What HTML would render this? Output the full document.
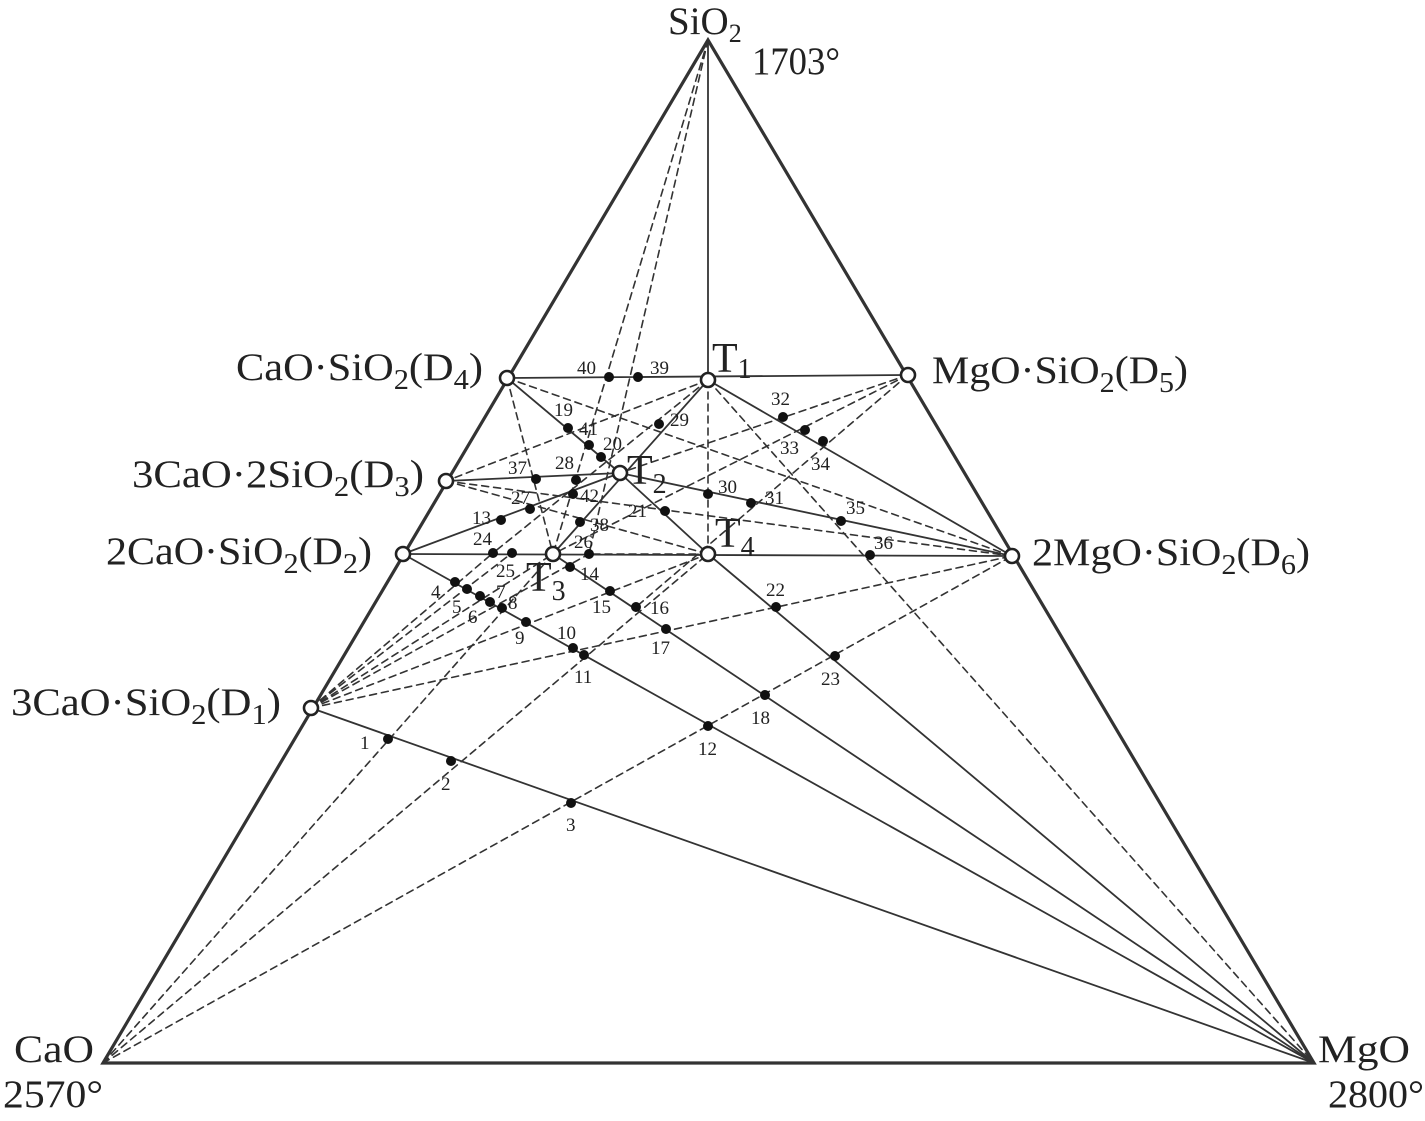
<!DOCTYPE html>
<html><head><meta charset="utf-8"><style>
html,body{margin:0;padding:0;background:#fff}
svg{display:block}
text{font-family:"Liberation Serif",serif;fill:#222}
.big{font-size:39px}
.n{font-size:19px}
.t{font-size:42px}
</style></head><body>
<svg width="1425" height="1121" viewBox="0 0 1425 1121">
<g stroke="#333" fill="none" stroke-linecap="round">
<polygon points="708,40 103,1063 1314,1063" stroke-width="3.2" stroke-linejoin="miter"/>
<g stroke-width="1.8">
<line x1="708" y1="40" x2="708" y2="380"/>
<line x1="507" y1="378" x2="908" y2="375"/>
<line x1="446" y1="481" x2="620" y2="473"/>
<line x1="403" y1="554" x2="1012" y2="556"/>
<line x1="311" y1="708" x2="1314" y2="1063"/>
<line x1="403" y1="554" x2="1314" y2="1063"/>
<line x1="553" y1="554" x2="1314" y2="1063"/>
<line x1="708" y1="554" x2="1314" y2="1063"/>
<line x1="620" y1="473" x2="1012" y2="556"/>
<line x1="708" y1="380" x2="1012" y2="556"/>
<line x1="507" y1="378" x2="620" y2="473"/>
<line x1="708" y1="380" x2="553" y2="554"/>
<line x1="403" y1="554" x2="620" y2="473"/>
<line x1="620" y1="473" x2="708" y2="554"/>
</g>
<g stroke-width="1.6" stroke-dasharray="7,5">
<line x1="708" y1="40" x2="553" y2="554"/>
<line x1="708" y1="40" x2="589" y2="554"/>
<line x1="103" y1="1063" x2="553" y2="554"/>
<line x1="103" y1="1063" x2="708" y2="554"/>
<line x1="103" y1="1063" x2="1012" y2="556"/>
<line x1="311" y1="708" x2="493" y2="553"/>
<line x1="311" y1="708" x2="512" y2="553"/>
<line x1="311" y1="708" x2="553" y2="554"/>
<line x1="311" y1="708" x2="589" y2="554"/>
<line x1="311" y1="708" x2="708" y2="554"/>
<line x1="311" y1="708" x2="1012" y2="556"/>
<line x1="708" y1="380" x2="708" y2="554"/>
<line x1="708" y1="380" x2="446" y2="481"/>
<line x1="708" y1="380" x2="1314" y2="1063"/>
<line x1="708" y1="380" x2="493" y2="553"/>
<line x1="507" y1="378" x2="553" y2="554"/>
<line x1="507" y1="378" x2="1012" y2="556"/>
<line x1="446" y1="481" x2="1012" y2="556"/>
<line x1="446" y1="481" x2="708" y2="554"/>
<line x1="908" y1="375" x2="620" y2="473"/>
<line x1="908" y1="375" x2="553" y2="554"/>
<line x1="908" y1="375" x2="636" y2="607"/>
<line x1="708" y1="554" x2="589" y2="554"/>
</g>
</g>
<g fill="#111">
<circle cx="388" cy="739" r="5"/><circle cx="451" cy="761" r="5"/><circle cx="571" cy="803" r="5"/>
<circle cx="455" cy="582" r="5"/><circle cx="467" cy="589" r="5"/><circle cx="480" cy="596" r="5"/><circle cx="490" cy="602" r="5"/><circle cx="502" cy="608" r="5"/>
<circle cx="526" cy="622" r="5"/><circle cx="573" cy="648" r="5"/><circle cx="584" cy="655" r="5"/><circle cx="708" cy="726" r="5"/>
<circle cx="570" cy="567" r="5"/><circle cx="610" cy="591" r="5"/><circle cx="636" cy="607" r="5"/><circle cx="666" cy="629" r="5"/><circle cx="765" cy="695" r="5"/>
<circle cx="776" cy="607" r="5"/><circle cx="835" cy="656" r="5"/>
<circle cx="501" cy="520" r="5"/><circle cx="530" cy="509" r="5"/><circle cx="573" cy="494" r="5"/>
<circle cx="568" cy="428" r="5"/><circle cx="589" cy="445" r="5"/><circle cx="601" cy="457" r="5"/>
<circle cx="659" cy="424" r="5"/><circle cx="580" cy="522" r="5"/><circle cx="665" cy="511" r="5"/>
<circle cx="708" cy="494" r="5"/><circle cx="751" cy="503" r="5"/><circle cx="841" cy="521" r="5"/>
<circle cx="783" cy="417" r="5"/><circle cx="805" cy="430" r="5"/><circle cx="823" cy="441" r="5"/>
<circle cx="870" cy="555" r="5"/><circle cx="493" cy="553" r="5"/><circle cx="512" cy="553" r="5"/><circle cx="589" cy="554" r="5"/>
<circle cx="536" cy="479" r="5"/><circle cx="576" cy="480" r="5"/>
<circle cx="609" cy="377" r="5"/><circle cx="638" cy="377" r="5"/>
</g>
<g fill="#fff" stroke="#222" stroke-width="2.6">
<circle cx="507" cy="378" r="7"/><circle cx="708" cy="380" r="7"/><circle cx="908" cy="375" r="7"/>
<circle cx="446" cy="481" r="7"/><circle cx="620" cy="473" r="7"/>
<circle cx="403" cy="554" r="7"/><circle cx="553" cy="554" r="7"/><circle cx="708" cy="554" r="7"/><circle cx="1012" cy="556" r="7"/>
<circle cx="311" cy="708" r="7"/>
</g>
<text class="big" x="668" y="34" font-size="36">SiO<tspan font-size="26" dy="8">2</tspan></text>
<text class="big" x="752" y="74" textLength="88" lengthAdjust="spacingAndGlyphs">1703°</text>
<text class="big" x="236" y="380" textLength="247" lengthAdjust="spacingAndGlyphs">CaO·SiO<tspan font-size="28" dy="9">2</tspan><tspan dy="-9">(D</tspan><tspan font-size="28" dy="9">4</tspan><tspan dy="-9">)</tspan></text>
<text class="big" x="932" y="383" textLength="256" lengthAdjust="spacingAndGlyphs">MgO·SiO<tspan font-size="28" dy="9">2</tspan><tspan dy="-9">(D</tspan><tspan font-size="28" dy="9">5</tspan><tspan dy="-9">)</tspan></text>
<text class="big" x="132" y="487" textLength="292" lengthAdjust="spacingAndGlyphs">3CaO·2SiO<tspan font-size="28" dy="9">2</tspan><tspan dy="-9">(D</tspan><tspan font-size="28" dy="9">3</tspan><tspan dy="-9">)</tspan></text>
<text class="big" x="106" y="564" textLength="266" lengthAdjust="spacingAndGlyphs">2CaO·SiO<tspan font-size="28" dy="9">2</tspan><tspan dy="-9">(D</tspan><tspan font-size="28" dy="9">2</tspan><tspan dy="-9">)</tspan></text>
<text class="big" x="1032" y="565" textLength="278" lengthAdjust="spacingAndGlyphs">2MgO·SiO<tspan font-size="28" dy="9">2</tspan><tspan dy="-9">(D</tspan><tspan font-size="28" dy="9">6</tspan><tspan dy="-9">)</tspan></text>
<text class="big" x="11" y="715" textLength="270" lengthAdjust="spacingAndGlyphs">3CaO·SiO<tspan font-size="28" dy="9">2</tspan><tspan dy="-9">(D</tspan><tspan font-size="28" dy="9">1</tspan><tspan dy="-9">)</tspan></text>
<text class="big" x="14" y="1062" textLength="80" lengthAdjust="spacingAndGlyphs">CaO</text>
<text class="big" x="3" y="1107" textLength="100" lengthAdjust="spacingAndGlyphs">2570°</text>
<text class="big" x="1318" y="1062" textLength="92" lengthAdjust="spacingAndGlyphs">MgO</text>
<text class="big" x="1328" y="1107" textLength="96" lengthAdjust="spacingAndGlyphs">2800°</text>
<text class="t" x="712" y="372">T<tspan font-size="28" dy="6">1</tspan></text>
<text class="t" x="627" y="484">T<tspan font-size="28" dy="9">2</tspan></text>
<text class="t" x="526" y="591">T<tspan font-size="28" dy="9">3</tspan></text>
<text class="t" x="715" y="547">T<tspan font-size="28" dy="9">4</tspan></text>
<g>
<text class="n" x="360" y="749">1</text><text class="n" x="441" y="790">2</text><text class="n" x="566" y="831">3</text>
<text class="n" x="431" y="598">4</text><text class="n" x="452" y="613">5</text><text class="n" x="468" y="623">6</text><text class="n" x="496" y="598">7</text><text class="n" x="508" y="609">8</text>
<text class="n" x="515" y="644">9</text><text class="n" x="557" y="639">10</text><text class="n" x="574" y="683">11</text><text class="n" x="698" y="755">12</text>
<text class="n" x="472" y="524">13</text><text class="n" x="580" y="580">14</text><text class="n" x="592" y="613">15</text><text class="n" x="650" y="614">16</text>
<text class="n" x="651" y="654">17</text><text class="n" x="751" y="724">18</text><text class="n" x="554" y="416">19</text><text class="n" x="603" y="450">20</text>
<text class="n" x="628" y="517">21</text><text class="n" x="766" y="596">22</text><text class="n" x="821" y="685">23</text><text class="n" x="473" y="545">24</text>
<text class="n" x="496" y="577">25</text><text class="n" x="574" y="548">26</text><text class="n" x="511" y="504">27</text><text class="n" x="555" y="469">28</text>
<text class="n" x="670" y="426">29</text><text class="n" x="718" y="493">30</text><text class="n" x="765" y="504">31</text><text class="n" x="771" y="405">32</text>
<text class="n" x="780" y="454">33</text><text class="n" x="811" y="470">34</text><text class="n" x="846" y="514">35</text><text class="n" x="874" y="549">36</text>
<text class="n" x="508" y="474">37</text><text class="n" x="590" y="531">38</text><text class="n" x="650" y="374">39</text><text class="n" x="577" y="374">40</text>
<text class="n" x="579" y="435">41</text><text class="n" x="580" y="502">42</text>
</g>
</svg>
</body></html>
